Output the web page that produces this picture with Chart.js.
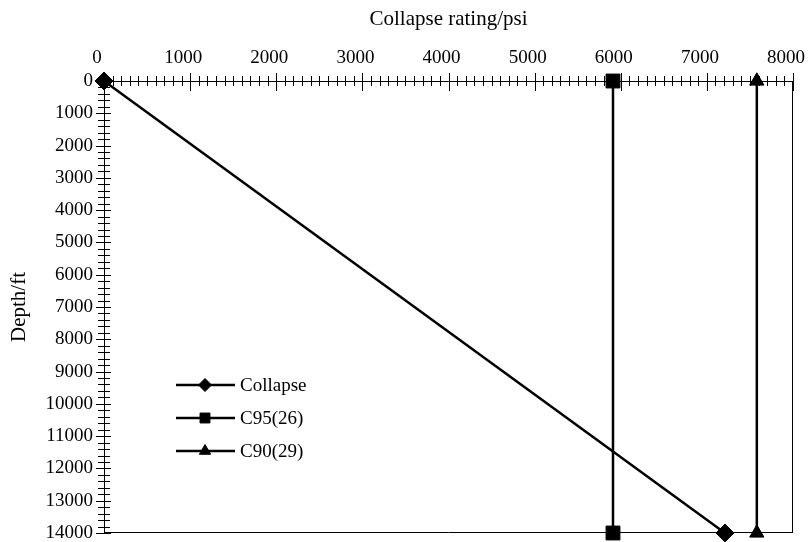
<!DOCTYPE html>
<html>
<head>
<meta charset="utf-8">
<script src="https://cdn.jsdelivr.net/npm/chart.js@4.4.1/dist/chart.umd.min.js"></script>
<style>
  html, body { margin: 0; padding: 0; background: #fff; }
</style>
</head>
<body>
<canvas id="mychart" width="809" height="542"></canvas>
<script>
const seriesNames = ["Collapse", "C95(26)", "C90(29)"];

// rating in psi, depth in ft
const collapseRating = [0, 7210];
const collapseDepth = [0, 14000];
const c95Rating = [5910, 5910];
const c95Depth = [0, 14000];
const c90Rating = [7580, 7580];
const c90Depth = [0, 14000];

const ratingTicks = [0, 1000, 2000, 3000, 4000, 5000, 6000, 7000, 8000];
const depthTicks = [0, 1000, 2000, 3000, 4000, 5000, 6000, 7000, 8000, 9000, 10000, 11000, 12000, 13000, 14000];

const serif = "'Liberation Serif', 'Times New Roman', serif";

// plot box in canvas pixels
const plotBox = { left: 104, top: 81, right: 793, bottom: 533 };

const toPoints = (xs, ys) => xs.map((x, i) => ({ x: x, y: ys[i] }));

const styles = [
  { pointStyle: "rectRot", radius: 9, legendRadius: 6.5 },
  { pointStyle: "rect", radius: 9.8, legendRadius: 7 },
  { pointStyle: "triangle", radius: 8.2, legendRadius: 6.5 },
];

const seriesData = [
  toPoints(collapseRating, collapseDepth),
  toPoints(c95Rating, c95Depth),
  toPoints(c90Rating, c90Depth),
];

// pin the scales to a fixed plot box
const fixedBox = {
  id: "fixedBox",
  afterLayout(chart) {
    const b = plotBox;
    const xs = chart.scales.x, ys = chart.scales.y;
    Object.assign(chart.chartArea, {
      left: b.left, top: b.top, right: b.right, bottom: b.bottom,
      width: b.right - b.left, height: b.bottom - b.top,
    });
    Object.assign(xs, { left: b.left, right: b.right, width: b.right - b.left, top: 0, bottom: b.top, height: b.top });
    Object.assign(ys, { left: 0, right: b.left, width: b.left, top: b.top, bottom: b.bottom, height: b.bottom - b.top });
    xs.configure();
    ys.configure();
  },
};

// frame with crossing tick marks along the top and left axes
const axisFrame = {
  id: "axisFrame",
  beforeDatasetsDraw(chart) {
    const { ctx, scales } = chart;
    const xs = scales.x, ys = scales.y;
    const left = xs.getPixelForValue(0), right = xs.getPixelForValue(8000);
    const top = ys.getPixelForValue(0), bottom = ys.getPixelForValue(14000);
    ctx.save();
    ctx.strokeStyle = "#000";
    ctx.lineWidth = 1;
    ctx.beginPath();
    ctx.moveTo(left, top + 0.5);
    ctx.lineTo(right, top + 0.5);
    ctx.moveTo(left + 0.5, top);
    ctx.lineTo(left + 0.5, bottom);
    ctx.moveTo(right - 0.5, top);
    ctx.lineTo(right - 0.5, bottom);
    ctx.moveTo(left, bottom - 0.5);
    ctx.lineTo(right, bottom - 0.5);

    for (let v = 0; v <= 8000; v += 100) {
      const px = Math.round(xs.getPixelForValue(v)) + 0.5;
      const major = v % 1000 === 0;
      ctx.moveTo(px, top - (major ? 8 : 5));
      ctx.lineTo(px, top + (major ? 10 : 5));
    }
    for (let v = 0; v <= 14000; v += 200) {
      const py = Math.round(ys.getPixelForValue(v)) + 0.5;
      const major = v % 1000 === 0;
      ctx.moveTo(left - (major ? 8 : 6), py);
      ctx.lineTo(left + (major ? 7 : 6), py);
    }
    ctx.stroke();
    ctx.restore();
  },
};

// legend drawn as line + marker samples inside the plot
const lineLegend = {
  id: "lineLegend",
  afterDraw(chart) {
    const { ctx } = chart;
    const rowY = [385, 418, 451];
    ctx.save();
    ctx.font = "19px " + serif;
    ctx.textBaseline = "middle";
    ctx.fillStyle = "#000";
    ctx.strokeStyle = "#000";
    seriesNames.forEach((name, i) => {
      const y = rowY[i];
      ctx.lineWidth = 2.5;
      ctx.beginPath();
      ctx.moveTo(176, y);
      ctx.lineTo(235, y);
      ctx.stroke();
      ctx.lineWidth = 1;
      Chart.helpers.drawPoint(ctx, {
        pointStyle: styles[i].pointStyle,
        radius: styles[i].legendRadius,
        rotation: 0,
        borderWidth: 1,
      }, 205, y);
      ctx.fillText(name, 240, y + 1);
    });
    ctx.restore();
  },
};

const datasets = seriesNames.map((name, i) => ({
  label: name,
  data: seriesData[i],
  showLine: true,
  borderColor: "#000",
  backgroundColor: "#000",
  borderWidth: 2.5,
  pointStyle: styles[i].pointStyle,
  pointRadius: styles[i].radius,
  pointBackgroundColor: "#000",
  pointBorderColor: "#000",
  pointBorderWidth: 1,
  clip: false,
}));

const config = {
  type: "scatter",
  data: { datasets },
  options: {
    responsive: false,
    animation: false,
    devicePixelRatio: 1,
    plugins: {
      legend: { display: false },
      tooltip: { enabled: false },
    },
    scales: {
      x: {
        type: "linear",
        position: "top",
        min: 0,
        max: 8000,
        afterBuildTicks: (s) => { s.ticks = ratingTicks.map((v) => ({ value: v })); },
        grid: { display: false, drawTicks: false },
        border: { display: false },
        ticks: {
          color: "#000",
          font: { family: serif, size: 19 },
          padding: 12,
          labelOffset: -7,
          maxRotation: 0,
          autoSkip: false,
          callback: (v) => String(v),
        },
        title: {
          display: true,
          text: "Collapse rating/psi",
          color: "#000",
          font: { family: serif, size: 21 },
          padding: { top: 7, bottom: 0 },
        },
      },
      y: {
        type: "linear",
        position: "left",
        reverse: true,
        min: 0,
        max: 14000,
        afterBuildTicks: (s) => { s.ticks = depthTicks.map((v) => ({ value: v })); },
        grid: { display: false, drawTicks: false },
        border: { display: false },
        ticks: {
          color: "#000",
          font: { family: serif, size: 19 },
          padding: 11,
          autoSkip: false,
          callback: (v) => String(v),
        },
        title: {
          display: true,
          text: "Depth/ft",
          color: "#000",
          font: { family: serif, size: 21 },
          padding: { top: 7, bottom: 0 },
        },
      },
    },
  },
  plugins: [fixedBox, axisFrame, lineLegend],
};

const myChart = new Chart(document.getElementById("mychart").getContext("2d"), config);
</script>
</body>
</html>
